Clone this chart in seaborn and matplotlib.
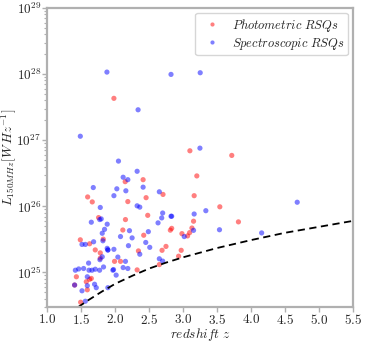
import numpy as np
import pandas as pd
import matplotlib
matplotlib.use("Agg")
import matplotlib.pyplot as plt
import matplotlib.ticker as mticker
import seaborn as sns

# Photometric RSQs: redshift, log10 L150MHz
phot_z = [1.979, 3.098, 3.715, 3.20, 3.161, 3.539, 3.152, 3.813, 3.128, 3.094,
          2.981, 3.064, 2.97, 2.145, 2.409, 2.184, 2.453, 2.702, 2.477, 2.149,
          2.83, 2.81, 2.11, 2.418, 2.34, 2.746, 2.688, 1.988, 2.076, 2.321,
          2.648, 2.932, 1.753, 1.484, 1.621, 1.704, 1.822, 1.778, 1.778, 1.426,
          1.621, 1.646, 1.572, 1.587, 1.40, 1.489, 1.592, 1.66]
phot_logL = [27.633, 26.84, 26.77, 26.46, 26.161, 25.993, 25.775, 25.765, 25.672, 25.602,
             25.587, 25.553, 25.335, 26.373, 26.403, 26.072, 26.131, 26.18, 25.864, 25.80,
             25.667, 25.64, 25.642, 25.563, 25.326, 25.394, 25.335, 25.168, 25.168, 25.039,
             25.119, 25.246, 25.83, 25.494, 25.434, 25.341, 25.504, 25.296, 25.216, 24.935,
             24.896, 24.91, 24.86, 24.738, 24.81, 24.55, 26.142, 26.067]

# Spectroscopic RSQs
spec_z = [1.876, 2.82, 3.25, 2.335, 1.484, 2.046, 2.321, 2.115, 3.246, 3.333,
          3.161, 4.679, 3.152, 3.534, 3.015, 4.155, 2.184, 2.022, 2.155, 2.409,
          1.979, 2.648, 2.321, 2.36, 2.697, 2.683, 2.82, 2.83, 2.629, 2.208,
          2.076, 2.247, 2.486, 2.448, 2.507, 2.193, 2.36, 1.979, 2.149, 1.973,
          2.115, 2.184, 2.648, 2.697, 2.012, 1.646, 1.792, 1.88, 1.807, 1.841,
          1.817, 1.509, 1.558, 1.68, 1.88, 1.89, 1.89, 1.807, 1.773, 1.606,
          1.46, 1.411, 1.533, 1.612, 1.656, 1.704, 1.826, 1.768, 1.587, 1.587,
          1.40, 1.694, 1.719, 1.509, 1.89, 1.558, 1.675, 1.778, 1.77, 1.964,
          2.037]
spec_logL = [28.03, 27.995, 28.02, 27.46, 27.06, 26.684, 26.53, 26.44, 26.88, 25.934,
             25.884, 26.062, 25.637, 25.646, 25.543, 25.598, 26.403, 26.265, 26.235, 26.29,
             26.161, 26.22, 26.008, 25.988, 25.899, 25.825, 25.85, 25.85, 25.75, 25.632,
             25.543, 25.523, 25.617, 25.454, 25.38, 25.405, 25.276, 25.35, 25.168, 25.044,
             25.074, 25.06, 25.207, 25.172, 24.96, 25.76, 25.81, 25.73, 25.593, 25.652,
             25.479, 25.424, 25.424, 25.464, 25.365, 25.34, 25.34, 25.237, 25.193, 25.142,
             25.053, 25.034, 25.06, 25.034, 25.034, 25.049, 25.083, 25.034, 24.935, 24.80,
             24.81, 24.822, 24.77, 24.723, 24.77, 24.565, 26.284, 25.983, 25.80, 25.034,
             25.233]

# Flux-limit curve
lim_z = [1.45, 1.6, 1.8, 2.0, 2.25, 2.5, 2.75, 3.0, 3.5, 4.0, 4.5, 5.0, 5.5]
lim_logL = [24.475, 24.58, 24.71, 24.83, 24.95, 25.06, 25.15, 25.23, 25.37,
            25.49, 25.60, 25.69, 25.78]

x_ticks = [1.0, 1.5, 2.0, 2.5, 3.0, 3.5, 4.0, 4.5, 5.0, 5.5]
y_ticks_exp = [25, 26, 27, 28, 29]

sns.set_style("white")
plt.rcParams["mathtext.fontset"] = "cm"
plt.rcParams["font.family"] = ["DejaVu Serif"]

df = pd.DataFrame({
    "z": phot_z + spec_z,
    "L": list(10 ** np.array(phot_logL)) + list(10 ** np.array(spec_logL)),
    "kind": ["Photometric RSQs"] * len(phot_z) + ["Spectroscopic RSQs"] * len(spec_z),
})

fig = plt.figure(figsize=(3.65, 3.45), dpi=100)
ax = fig.add_axes([0.13, 0.11, 0.837, 0.867])

sns.scatterplot(data=df, x="z", y="L", hue="kind",
                palette={"Photometric RSQs": "red", "Spectroscopic RSQs": "blue"},
                alpha=0.5, s=14, linewidth=0, ax=ax)
sns.lineplot(x=lim_z, y=10 ** np.array(lim_logL), color="black", lw=1.3,
             linestyle=(0, (4, 2.5)), ax=ax)

ax.set_yscale("log")
ax.set_xlim(1.0, 5.5)
ax.set_ylim(3e24, 1e29)
ax.set_xticks(x_ticks)
ax.xaxis.set_major_formatter(mticker.FuncFormatter(lambda v, p: r"$%.1f$" % v))
ax.set_yticks([10.0 ** e for e in y_ticks_exp])
ax.yaxis.set_major_formatter(mticker.FuncFormatter(
    lambda v, p: r"$10^{%d}$" % int(round(np.log10(v)))))
ax.yaxis.set_minor_locator(mticker.LogLocator(base=10, subs=np.arange(2, 10)))
ax.yaxis.set_minor_formatter(mticker.NullFormatter())

for sp in ax.spines.values():
    sp.set_color("#b0b0b0")
    sp.set_linewidth(1.6)
ax.tick_params(axis="both", which="major", length=3.5, width=1.0, color="#b0b0b0",
               labelsize=9.5, pad=1, left=True, bottom=True, direction="out")
ax.tick_params(axis="x", which="major", pad=0.5)
ax.tick_params(axis="y", which="minor", length=2.5, width=0.8, color="#b0b0b0", left=True)

ax.set_xlabel(r"$redshift\ z$", fontsize=9.5)
ax.set_ylabel(r"$L_{150MHz}[W\,Hz^{-1}]$", fontsize=9.5)
ax.xaxis.set_label_coords(0.5, -0.065)
ax.yaxis.set_label_coords(-0.097, 0.5)

handles, labels = ax.get_legend_handles_labels()
ax.legend(handles, [r"$Photometric\ RSQs$", r"$Spectroscopic\ RSQs$"],
          loc="upper right", fontsize=9, frameon=True, markerscale=0.8,
          handletextpad=0.6, borderpad=0.3, labelspacing=0.15,
          borderaxespad=0.4)

fig.savefig("out.png", dpi=100)
